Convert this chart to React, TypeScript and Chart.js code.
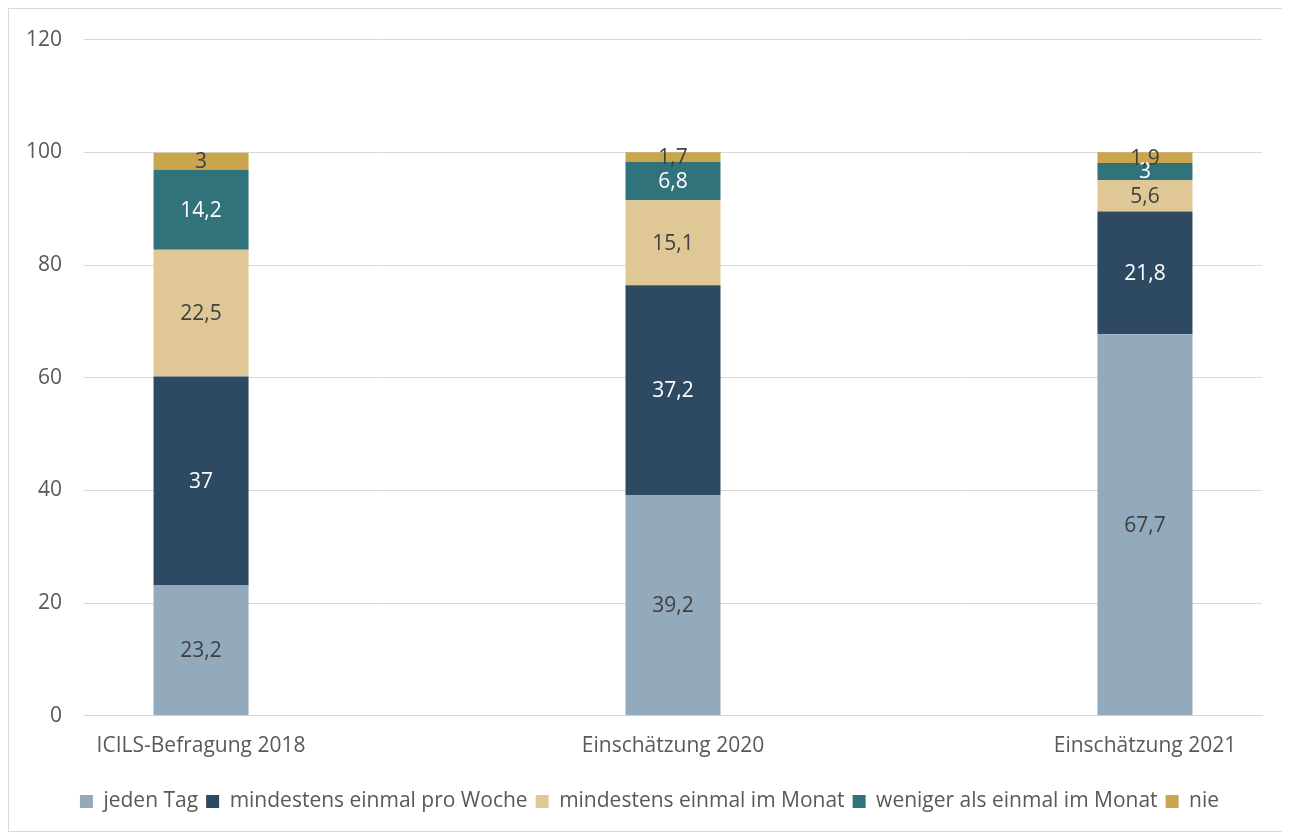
import React, { useEffect, useRef } from "react";
import { Chart, registerables } from "chart.js";

Chart.register(...registerables);

const categories = ["ICILS-Befragung 2018", "Einschätzung 2020", "Einschätzung 2021"];
const seriesNames = [
  "jeden Tag",
  "mindestens einmal pro Woche",
  "mindestens einmal im Monat",
  "weniger als einmal im Monat",
  "nie",
];
const jedenTag = [23.2, 39.2, 67.7];
const proWoche = [37, 37.2, 21.8];
const imMonat = [22.5, 15.1, 5.6];
const wenigerAls = [14.2, 6.8, 3];
const nie = [3, 1.7, 1.9];
const yTicks = [0, 20, 40, 60, 80, 100, 120];

const seriesValues = [jedenTag, proWoche, imMonat, wenigerAls, nie];
const seriesColors = ["#93A9BC", "#2E4A63", "#E0C796", "#31737A", "#C9A54E"];
const labelColors = ["#404040", "#FFFFFF", "#404040", "#FFFFFF", "#404040"];

const FONT = "'Open Sans', sans-serif";
const FS = 21;

const valueLabels = {
  id: "valueLabels",
  afterDatasetsDraw(chart: any) {
    const ctx = chart.ctx;
    ctx.save();
    ctx.font = `${FS}px ${FONT}`;
    ctx.textAlign = "center";
    ctx.textBaseline = "middle";
    chart.data.datasets.forEach((ds: any, i: number) => {
      const meta = chart.getDatasetMeta(i);
      meta.data.forEach((bar: any, j: number) => {
        const v = ds.data[j].y;
        const y = (bar.y + bar.base) / 2 + 1;
        ctx.fillStyle = labelColors[i];
        ctx.fillText(String(v).replace(".", ","), bar.x, y);
      });
    });
    ctx.restore();
  },
};

export default function App() {
  const ref = useRef<HTMLCanvasElement>(null);
  useEffect(() => {
    document.body.style.overflow = "hidden";
    const chart = new Chart(ref.current!, {
      type: "bar",
      data: {
        datasets: seriesNames.map((name, i) => ({
          label: name,
          data: seriesValues[i].map((v, j) => ({ x: j, y: v })),
          backgroundColor: seriesColors[i],
          borderWidth: 0,
          barPercentage: 0.2013,
          categoryPercentage: 1,
        })),
      },
      options: {
        animation: false,
        responsive: false,
        maintainAspectRatio: false,
        layout: { padding: { top: 20, right: 0, left: 0, bottom: 5 } },
        scales: {
          x: {
            type: "linear",
            stacked: true,
            offset: false,
            min: -0.248,
            max: 2.248,
            afterBuildTicks: (axis: any) => {
              axis.ticks = categories.map((_, j) => ({ value: j }));
            },
            grid: { display: false, drawTicks: false },
            border: { color: "#D9D9D9", width: 1 },
            ticks: {
              color: "#595959",
              font: { family: FONT, size: FS },
              padding: 18,
              autoSkip: false,
              maxRotation: 0,
              callback: (v: any) => categories[v] ?? "",
            },
          },
          y: {
            stacked: true,
            min: 0,
            max: 120,
            afterBuildTicks: (axis: any) => {
              axis.ticks = yTicks.map((v) => ({ value: v }));
            },
            afterFit: (axis: any) => {
              axis.width = 75;
            },
            grid: { color: "#D9D9D9", drawTicks: false },
            border: { display: false },
            ticks: { color: "#595959", font: { family: FONT, size: FS }, padding: 22 },
          },
          yRightSpace: {
            type: "linear",
            display: true,
            position: "right",
            min: 0,
            max: 120,
            afterFit: (axis: any) => {
              axis.width = 28;
            },
            grid: { display: false, drawTicks: false },
            border: { display: false },
            ticks: { display: false },
          },
        },
        plugins: {
          tooltip: { enabled: false },
          legend: {
            position: "bottom",
            title: { display: true, text: "", padding: 0, font: { size: 5, lineHeight: 1.2 } },
            labels: {
              color: "#595959",
              font: { family: FONT, size: FS },
              boxWidth: 13,
              boxHeight: 13,
              padding: 8,
            },
          },
        },
      },
      plugins: [valueLabels],
    });
    return () => chart.destroy();
  }, []);
  return (
    <div
      style={{
        width: 1281,
        height: 822,
        borderTop: "1px solid #D9D9D9",
        borderLeft: "1px solid #D9D9D9",
        borderBottom: "1px solid #D9D9D9",
        background: "#fff",
      }}
    >
      <canvas
        ref={ref}
        width={1281}
        height={822}
        style={{ display: "block", position: "relative", top: -4 }}
      />
    </div>
  );
}
